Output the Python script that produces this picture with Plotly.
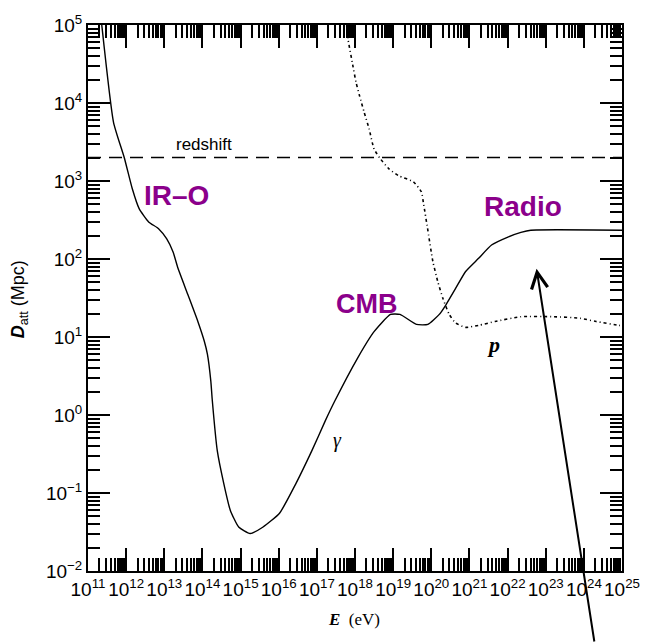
import numpy as np
import plotly.graph_objects as go

# ---- data (energy in eV, attenuation length in Mpc) ----
gamma_E = [2.24e11, 4.68e11, 8.91e11, 1.45e12, 2.19e12, 3.89e12, 7.08e12, 1.15e13,
           1.70e13, 2.29e13, 4.17e13, 7.59e13, 1.12e14, 1.35e14, 1.66e14, 1.82e14,
           2.45e14, 3.63e14, 5.37e14, 8.91e14, 1.78e15, 3.89e15, 1.05e16, 2.82e16,
           7.41e16, 1.66e17, 2.95e17, 1.17e18, 3.16e18, 8.51e18, 1.51e19, 4.07e19,
           8.13e19, 1.62e20, 2.40e20, 4.37e20, 7.94e20, 1.74e21, 3.80e21, 1.02e22,
           2.24e22, 4.07e22, 1.0e25]
gamma_D = [1.12e5, 5.62e3, 2.00e3, 7.94e2, 4.42e2, 2.99e2, 2.45e2, 1.82e2,
           1.23e2, 75.9, 34.7, 15.8, 8.81, 6.03, 2.72, 1.51,
           0.349, 0.132, 0.0603, 0.0367, 0.0302, 0.0367, 0.0550, 0.132,
           0.349, 0.841, 1.51, 5.37, 11.7, 19.5, 19.5, 14.5,
           14.5, 19.5, 25.7, 42.2, 69.2, 102, 151, 191,
           219, 234, 234]

proton_E = [5.89e17, 6.61e17, 8.71e17, 1.07e18, 1.32e18, 1.74e18, 2.34e18, 3.16e18,
            4.68e18, 7.76e18, 1.38e19, 3.39e19, 5.50e19, 6.31e19, 7.94e19, 1.10e20,
            1.48e20, 2.00e20, 2.95e20, 4.37e20, 7.94e20, 1.74e21, 4.68e21, 2.24e22,
            1.62e23, 7.94e23, 2.09e24, 8.32e24, 1.0e25]
proton_D = [1.12e5, 6.46e4, 3.09e4, 1.82e4, 1.23e4, 7.59e3, 4.68e3, 2.57e3,
            1.91e3, 1.43e3, 1.17e3, 9.77e2, 7.24e2, 5.01e2, 2.51e2, 93.3,
            51.3, 31.6, 19.5, 15.1, 13.3, 14.1, 15.8, 18.2,
            18.2, 17.4, 15.8, 14.1, 14.0]

redshift_D = 2000.0
x_range_exp = [11, 25]
y_range_exp = [-2, 5]

x_major = [10.0 ** k for k in range(x_range_exp[0], x_range_exp[1] + 1)]
y_major = [10.0 ** k for k in range(y_range_exp[0], y_range_exp[1] + 1)]
x_text = ["10<sup>%d</sup>" % k for k in range(x_range_exp[0], x_range_exp[1] + 1)]
y_text = [("10<sup>%d</sup>" % k) if k >= 0 else ("10<sup>\u2212%d</sup>" % -k)
          for k in range(y_range_exp[0], y_range_exp[1] + 1)]
x_minor = [m * 10.0 ** k for k in range(x_range_exp[0], x_range_exp[1]) for m in range(2, 10)]
y_minor = [m * 10.0 ** k for k in range(y_range_exp[0], y_range_exp[1]) for m in range(2, 10)]

PURPLE = "#8b008b"
FONT = "Liberation Sans, Arial, sans-serif"
SERIF = "Liberation Serif, Times New Roman, serif"

fig = go.Figure()
fig.add_trace(go.Scatter(x=gamma_E, y=gamma_D, mode="lines",
                         line=dict(color="black", width=1.4, shape="spline", smoothing=0.5),
                         showlegend=False, hoverinfo="skip"))
fig.add_trace(go.Scatter(x=proton_E, y=proton_D, mode="lines",
                         line=dict(color="black", width=1.6, dash="1px,3px,3px,3px",
                                   shape="spline", smoothing=0.5),
                         showlegend=False, hoverinfo="skip"))
fig.add_trace(go.Scatter(x=[10.0 ** x_range_exp[0], 10.0 ** x_range_exp[1]],
                         y=[redshift_D, redshift_D], mode="lines",
                         line=dict(color="black", width=1.6, dash="13px,8px"),
                         showlegend=False, hoverinfo="skip"))

axis_common = dict(type="log", showgrid=False, zeroline=False, showline=True,
                   linecolor="black", linewidth=2, mirror="ticks", ticks="inside",
                   tickcolor="black", tickwidth=1.5, tickmode="array",
                   tickfont=dict(family=FONT, size=19, color="black"))

fig.update_xaxes(**axis_common, range=x_range_exp, tickvals=x_major, ticktext=x_text,
                 ticklen=23,
                 minor=dict(tickmode="array", tickvals=x_minor, ticks="inside",
                            ticklen=13, tickcolor="black", tickwidth=1.5))
fig.update_yaxes(**axis_common, range=y_range_exp, tickvals=y_major, ticktext=y_text,
                 ticklen=22,
                 minor=dict(tickmode="array", tickvals=y_minor, ticks="inside",
                            ticklen=12, tickcolor="black", tickwidth=1.5))

def lab(text, ex, dy, size, color="black", family=FONT, yshift=0):
    fig.add_annotation(x=ex, y=dy, xref="x", yref="y", text=text, showarrow=False,
                       font=dict(family=family, size=size, color=color), yshift=yshift)

lab("redshift", 14.03, 3.47, 17)
lab("<b>IR\u2013O</b>", 13.31, 2.845, 28, PURPLE, yshift=-2)
lab("<b>CMB</b>", 18.31, 1.455, 27, PURPLE, yshift=-2)
lab("<b>Radio</b>", 22.40, 2.705, 28, PURPLE, yshift=-2)
lab("<i>\u03b3</i>", 17.55, -0.33, 20, family=SERIF)
lab("<b><i>p</i></b>", 21.62, 0.87, 22, family=SERIF, yshift=3)

# arrow
fig.add_annotation(x=22.76, y=1.876, xref="x", yref="y", ax=58, ay=376,
                   axref="pixel", ayref="pixel", text="", showarrow=True,
                   arrowhead=5, arrowsize=1.6, arrowwidth=2, arrowcolor="black")

# axis titles
fig.add_annotation(xref="paper", yref="paper", x=0.499, y=-0.089,
                   xanchor="center", yanchor="middle",
                   text="<b><i>E</i></b>  (eV)", showarrow=False,
                   font=dict(family=SERIF, size=17, color="black"))
fig.add_annotation(xref="paper", yref="paper", x=-0.128, y=0.497, textangle=-90,
                   xanchor="center", yanchor="middle",
                   text="<b><i>D</i></b><sub>att</sub> (Mpc)", showarrow=False,
                   font=dict(family=FONT, size=18, color="black"))

fig.update_layout(width=652, height=643, margin=dict(l=88, r=19, t=22, b=72),
                  paper_bgcolor="white", plot_bgcolor="white")

fig.write_html("out.html")
